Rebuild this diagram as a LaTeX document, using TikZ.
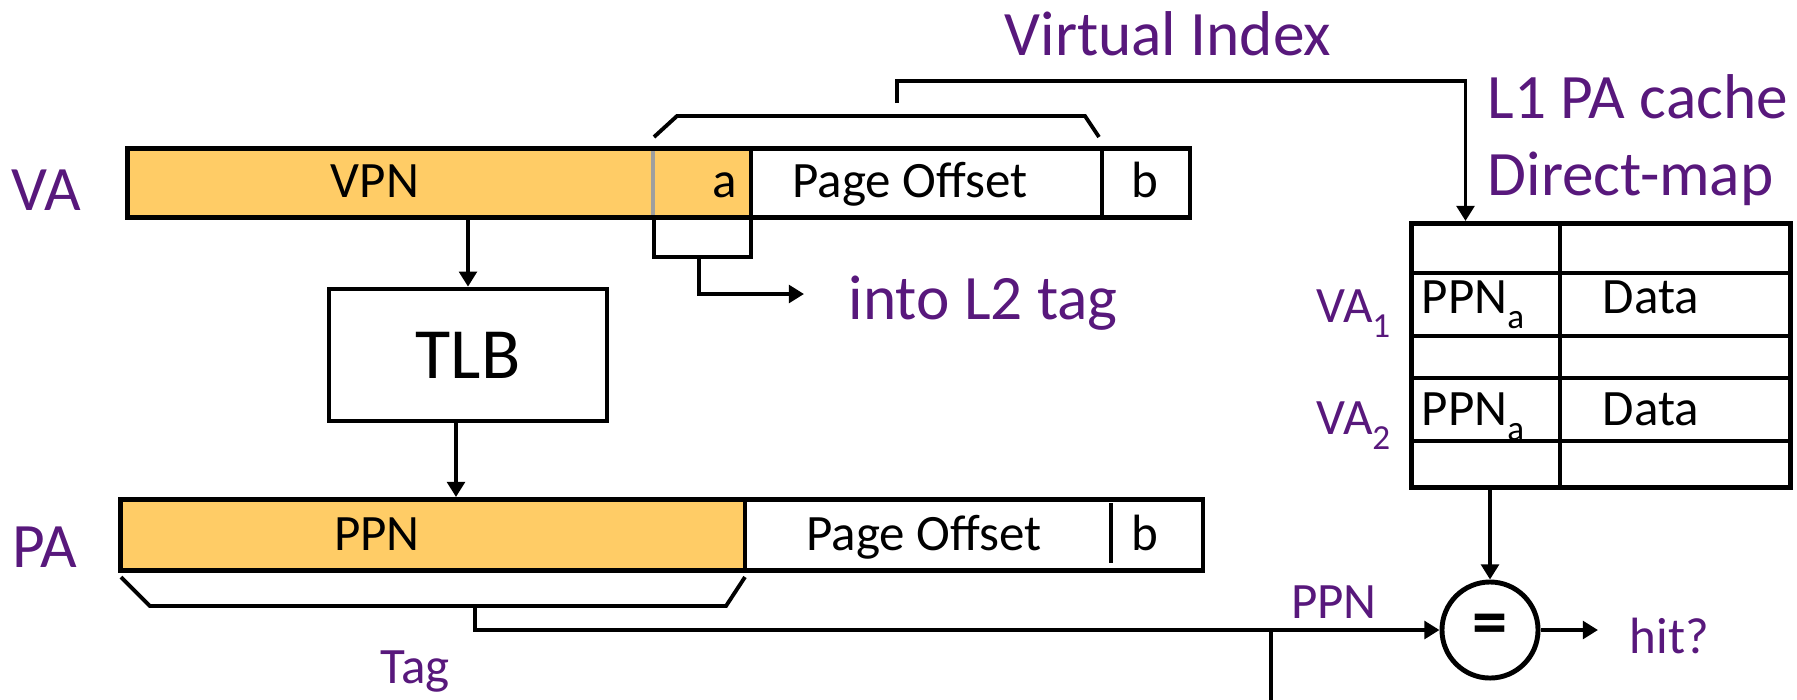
\documentclass[tikz,border=0pt]{standalone}
\usepackage{fontspec}
\setmainfont{Carlito}
\usetikzlibrary{arrows.meta,positioning}
\definecolor{vipurple}{RGB}{88,24,124}
\definecolor{pnfill}{RGB}{255,204,102}
\tikzset{
  box/.style={draw, line width=1.3pt, inner sep=0pt},
  wire/.style={line width=1.1pt},
  conn/.style={line width=1.1pt, -{Triangle[length=4.3pt,width=5pt]}},
  big/.style={text=vipurple, inner sep=0pt, font=\fontsize{18}{21}\selectfont},
  small/.style={text=vipurple, inner sep=0pt, font=\fontsize{14.5}{17}\selectfont},
  bits/.style={inner sep=0pt, font=\fontsize{14.5}{17}\selectfont}
}
\newcommand{\mySub}[1]{\raisebox{-4.3pt}{\fontsize{10}{12}\selectfont #1}}
\newcommand{\myCacheRow}[3]{
\node[small, anchor=base east] (#1) at (1391,#2+9) {#3};
\node[bits, anchor=base west] (#1tag) at (1421,#2) {PPN\mySub{a}};
\node[bits, anchor=base west] (#1data) at (1602,#2) {Data};
}

\begin{document}
\begin{tikzpicture}[x=0.01cm, y=-0.01cm]
	\useasboundingbox (0,0) rectangle (1797,699);
	% VA register
	\fill[pnfill] (125,146) rectangle (751,215);
	\draw[gray!75, line width=1pt] (653,146) -- (653,215);
	\draw[line width=1.3pt] (751,146) -- (751,215) (1102,146) -- (1102,215);
	\node[box, anchor=north west, minimum width=10.62cm, minimum height=0.69cm] (va) at (125,146) {};
	\node[bits, anchor=base] (vpn) at (375,197) {VPN};
	\node[bits, anchor=base] (vaa) at (725,197) {a};
	\node[bits, anchor=base] (vaoff) at (910,197) {Page Offset};
	\node[bits, anchor=base] (vab) at (1145,197) {b};
	\node[big, anchor=base] (valbl) at (46,210) {VA};
	% PA register
	\fill[pnfill] (118,497) rectangle (745,568);
	\draw[line width=1.3pt] (745,497) -- (745,568) (1111,503) -- (1111,563);
	\node[box, anchor=north west, minimum width=10.82cm, minimum height=0.71cm] (pa) at (118,497) {};
	\node[bits, anchor=base] (ppn) at (377,550) {PPN};
	\node[bits, anchor=base] (paoff) at (924,550) {Page Offset};
	\node[bits, anchor=base] (pab) at (1145,550) {b};
	\node[big, anchor=base] (palbl) at (45,567) {PA};
	% TLB and its arrows
	\node[box, minimum width=2.78cm, minimum height=1.32cm, font=\fontsize{20.5}{24}\selectfont] (tlb) at (468,355) {TLB};
	\draw[conn] (va.south -| tlb.north) -- (tlb.north);
	\draw[conn] ([xshift=-0.12cm]tlb.south) -- ([xshift=-0.12cm]tlb.south |- pa.north);
	% virtual index bracket
	\draw[wire] (654,137) -- (677,116) -- (1085,116) -- (1099,137);
	\coordinate (idx) at (897,103);
	\node[big, anchor=base] (vindex) at (1168,55) {Virtual Index};
	% bits a into L2 tag
	\draw[wire] (654,215) -- (654,257) -- (751,257) -- (751,215);
	\coordinate (l2) at (699,257);
	\coordinate (l2end) at (804,294);
	\draw[conn] (l2) |- (l2end);
	\node[big, anchor=base west] (intol2) at (848,319) {into L2 tag};
	% L1 cache
	\node[box, line width=1.4pt, anchor=north west, minimum width=3.79cm, minimum height=2.64cm] (cache) at (1409,221) {};
	\foreach \y in {273,336,378,441}
		\draw[line width=1.4pt] (1409,\y) -- (1788,\y);
	\draw[line width=1.4pt] (1560,221) -- (1560,485);
	\myCacheRow{vaone}{313}{VA\mySub{1}}
	\myCacheRow{vatwo}{425}{VA\mySub{2}}
	\node[big, anchor=base west] (lone) at (1487,118) {L1 PA cache};
	\node[big, anchor=base west] (dmap) at (1487,195) {Direct-map};
	\draw[conn] (idx) -- ++(0,-22) -| ([xshift=-1.355cm]cache.north);
	% tag compare
	\node[circle, draw, line width=1.4pt, minimum size=0.96cm, inner sep=0pt, font=\bfseries\fontsize{20}{24}\selectfont] (eq) at (1490,630) {=};
	\draw[conn] (eq.north |- cache.south) -- (eq.north);
	\draw[wire] (121,577) -- (150,606) -- (726,606) -- (745,577);
	\coordinate (tagstem) at (475,606);
	\draw[conn] (tagstem) |- (eq.west);
	\coordinate (branch) at (1271,630);
	\draw[wire] (branch) -- ++(0,80);
	\node[small, anchor=base] (taglbl) at (415,683) {Tag};
	\node[small, anchor=base] (ppnlbl) at (1334,618) {PPN};
	\node[small, anchor=base west] (hit) at (1629,653) {hit?};
	\draw[conn, shorten >=0.31cm] (eq.east) -- (eq.east -| hit.west);
\end{tikzpicture}
\end{document}
